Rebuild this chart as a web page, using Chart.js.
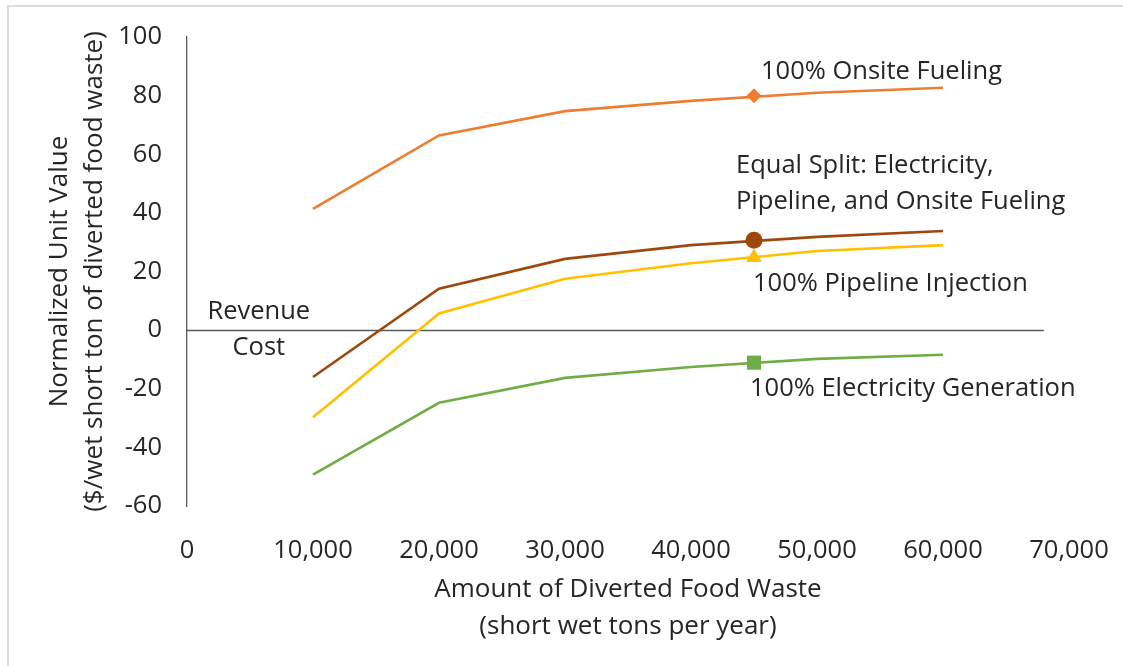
<!DOCTYPE html>
<html>
<head>
<meta charset="utf-8">
<script src="https://cdn.jsdelivr.net/npm/chart.js@4.4.1/dist/chart.umd.min.js"></script>
<style>
    html, body { margin: 0; padding: 0; background: #fff; overflow: hidden; }
    .frame { position: absolute; left: 7px; top: 5px; width: 1400px; height: 900px; border: 2px solid #dcdcdc; }
    #chart { position: absolute; left: 0; top: 0; }
</style>
</head>
<body>
<div class="frame"></div>
<canvas id="chart" width="1123" height="666"></canvas>
<script>
// Diverted food waste (short wet tons per year)
const wasteTons = [10000, 20000, 30000, 40000, 50000, 60000];

// Normalized unit value ($/wet short ton)
const onsiteFueling = [41.4, 66.4, 74.7, 78.2, 81.0, 82.7];
const equalSplit = [-16.0, 14.1, 24.3, 29.0, 31.8, 33.8];
const pipelineInjection = [-29.7, 5.7, 17.5, 22.8, 27.0, 29.0];
const electricityGeneration = [-49.3, -24.8, -16.3, -12.6, -9.8, -8.4];

// single labelled marker on each curve
const markerTons = [45000];
const onsiteMarker = [80.0];
const equalMarker = [30.7];
const pipelineMarker = [24.8];
const electricityMarker = [-11.1];

const seriesNames = [
    ['100% Onsite Fueling'],
    ['Equal Split: Electricity,', 'Pipeline, and Onsite Fueling'],
    ['100% Pipeline Injection'],
    ['100% Electricity Generation']
];

const xTitle = ['Amount of Diverted Food Waste', '(short wet tons per year)'];
const yTitle = ['Normalized Unit Value', '($/wet short ton of diverted food waste)'];

const FONT = "'Open Sans', 'Noto Sans', sans-serif";
const TEXT = '#262626';

const toPoints = (xs, ys) => xs.map((x, i) => ({ x: x, y: ys[i] }));

function lineSet(values, color) {
    return {
        data: toPoints(wasteTons, values),
        borderColor: color,
        borderWidth: 2.6,
        pointRadius: 0,
        tension: 0,
        fill: false
    };
}

function markerSet(values, color, style, radius) {
    return {
        data: toPoints(markerTons, values),
        showLine: false,
        pointStyle: style,
        pointRadius: radius,
        pointBackgroundColor: color,
        pointBorderColor: color,
        pointBorderWidth: 0
    };
}

// text next to each marker: offsets in px from the marker centre
const markerLabels = [
    { dataset: 4, lines: seriesNames[0], dx: 7, dy: -24 },
    { dataset: 5, lines: seriesNames[1], dx: -18, dy: -74 },
    { dataset: 6, lines: seriesNames[2], dx: -1, dy: 26 },
    { dataset: 7, lines: seriesNames[3], dx: -4, dy: 26 }
];

const BREAK_EVEN_LABEL_X = 5700;
const ZERO_LINE_END = 68000;

const zeroLine = {
    id: 'zeroLine',
    beforeDatasetsDraw(chart) {
        const { ctx, scales: { x, y } } = chart;
        const yy = Math.round(y.getPixelForValue(0)) + 0.5;
        ctx.save();
        ctx.strokeStyle = '#595959';
        ctx.lineWidth = 1.3;
        ctx.beginPath();
        ctx.moveTo(x.getPixelForValue(0), yy);
        ctx.lineTo(x.getPixelForValue(ZERO_LINE_END), yy);
        ctx.stroke();
        ctx.restore();
    }
};

const chartLabels = {
    id: 'chartLabels',
    afterDatasetsDraw(chart) {
        const { ctx, scales: { x, y } } = chart;
        ctx.save();
        ctx.fillStyle = TEXT;
        ctx.font = "25.5px " + FONT;
        ctx.textBaseline = 'middle';

        ctx.textAlign = 'left';
        markerLabels.forEach(l => {
            const pt = chart.getDatasetMeta(l.dataset).data[0];
            l.lines.forEach((line, i) => {
                ctx.fillText(line, pt.x + l.dx, pt.y + l.dy + i * 36);
            });
        });

        // revenue above / cost below the zero line
        ctx.textAlign = 'center';
        const bx = x.getPixelForValue(BREAK_EVEN_LABEL_X);
        const by = y.getPixelForValue(0);
        ctx.fillText('Revenue', bx, by - 18);
        ctx.fillText('Cost', bx, by + 18);
        ctx.restore();
    }
};

new Chart(document.getElementById('chart'), {
    type: 'line',
    data: {
        datasets: [
            lineSet(onsiteFueling, '#ED7D31'),
            lineSet(equalSplit, '#9E480E'),
            lineSet(pipelineInjection, '#FFC000'),
            lineSet(electricityGeneration, '#70AD47'),
            markerSet(onsiteMarker, '#ED7D31', 'rectRot', 7.5),
            markerSet(equalMarker, '#9E480E', 'circle', 8.5),
            markerSet(pipelineMarker, '#FFC000', 'triangle', 9),
            markerSet(electricityMarker, '#70AD47', 'rect', 10)
        ]
    },
    options: {
        responsive: false,
        animation: false,
        layout: { padding: { top: 37, right: 54, left: 0, bottom: 0 } },
        plugins: {
            legend: { display: false },
            tooltip: { enabled: false }
        },
        scales: {
            x: {
                type: 'linear',
                min: 0,
                max: 70000,
                afterFit: scale => {
                    scale.height = 160;
                    // the tick padding only pushes labels down; don't let it shrink the plot
                    scale.paddingRight = 0;
                },
                grid: { display: false, drawTicks: false },
                border: { display: false },
                ticks: {
                    stepSize: 10000,
                    padding: 29,
                    color: TEXT,
                    font: { family: FONT, size: 25.5 },
                    callback: v => v.toLocaleString('en-US')
                },
                title: {
                    display: true,
                    text: xTitle,
                    color: TEXT,
                    font: { family: FONT, size: 26, lineHeight: 1.42 },
                    padding: { top: 0, bottom: 21 }
                }
            },
            y: {
                min: -60,
                max: 100,
                afterFit: scale => {
                    scale.width = 187;
                    scale.paddingTop = 0;
                    scale.paddingBottom = 0;
                },
                grid: { display: false, drawTicks: false },
                border: { display: true, color: '#595959', width: 1.3 },
                ticks: {
                    stepSize: 20,
                    padding: 25,
                    color: TEXT,
                    font: { family: FONT, size: 25.5 }
                },
                title: {
                    display: true,
                    text: yTitle,
                    color: TEXT,
                    font: { family: FONT, size: 26, lineHeight: 1.35 },
                    padding: { top: 42, bottom: 0 }
                }
            }
        }
    },
    plugins: [zeroLine, chartLabels]
});
</script>
</body>
</html>
